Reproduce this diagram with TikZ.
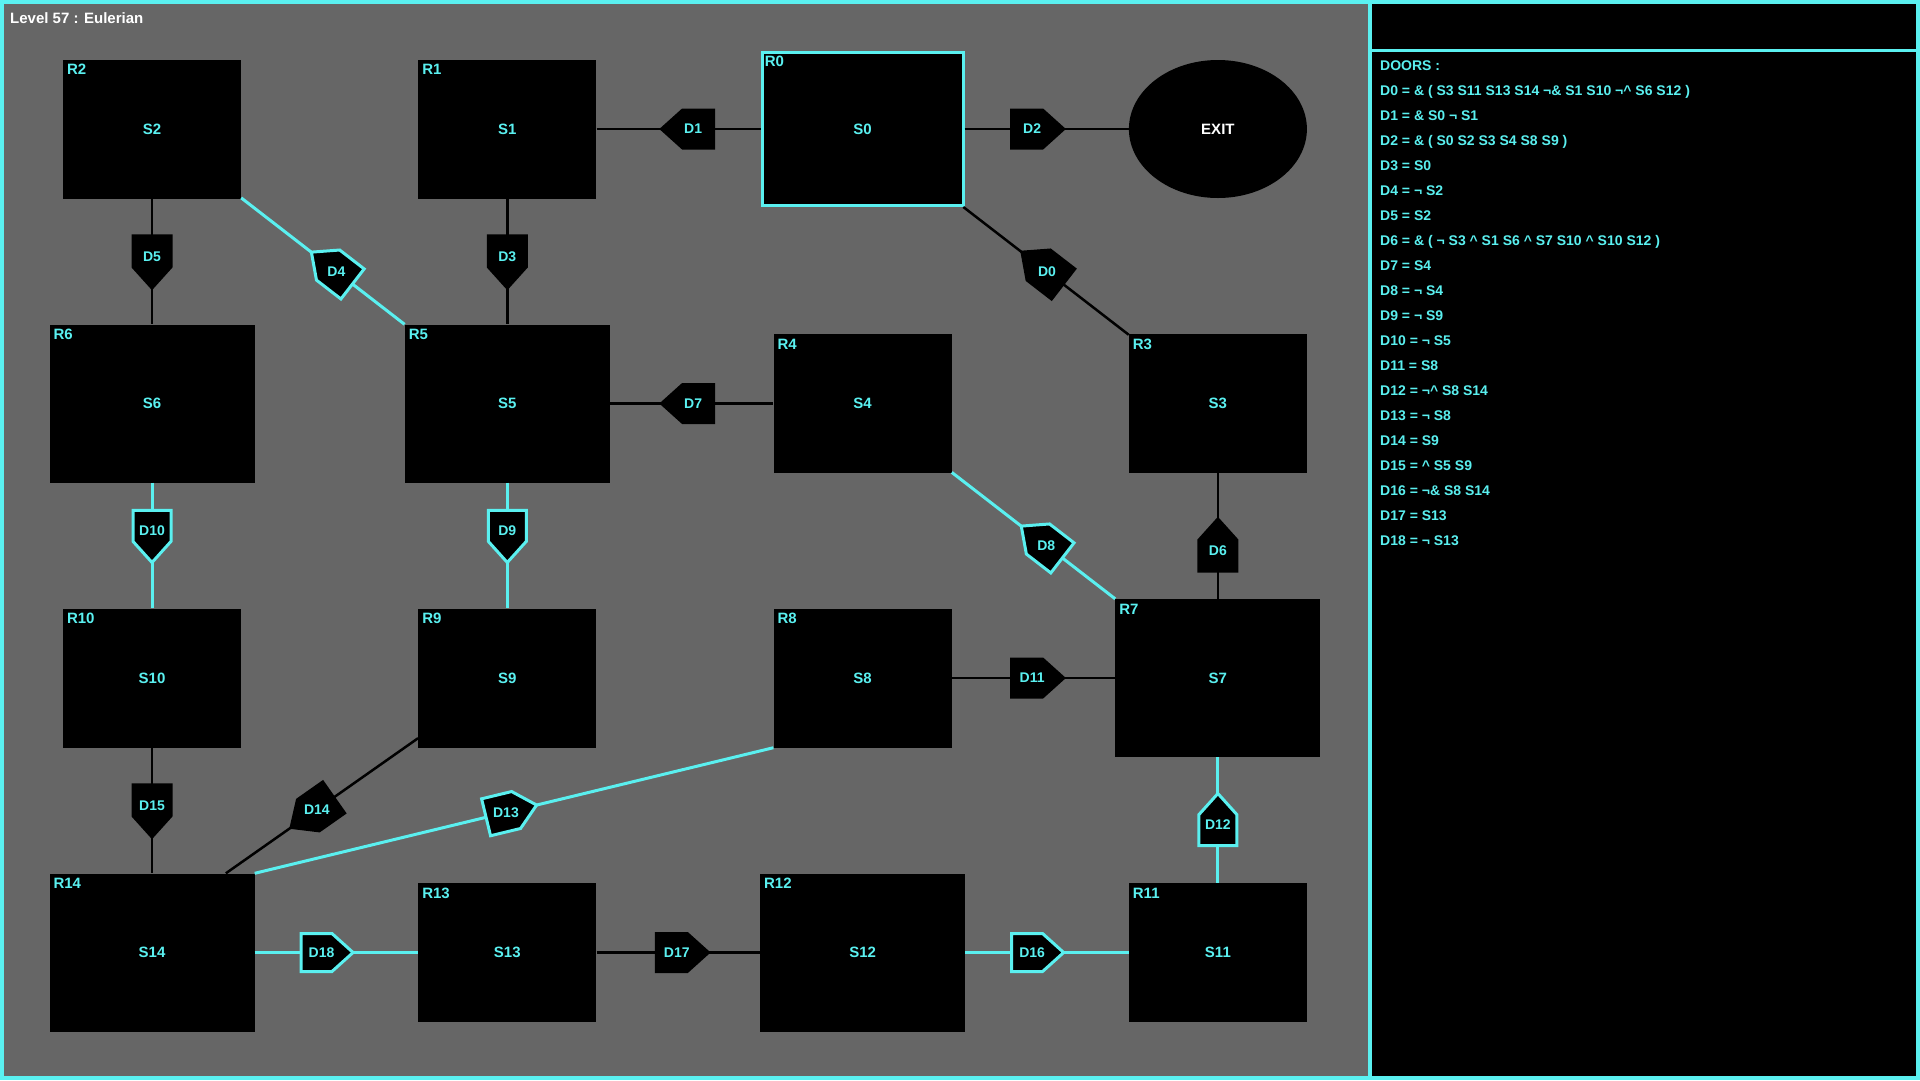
\documentclass[tikz,border=0pt]{standalone}
\usepackage{fontspec}
\setmainfont{Liberation Sans}
\usetikzlibrary{positioning, calc, shapes.geometric, shapes.symbols}

\definecolor{neon}{RGB}{90,240,240}
\definecolor{floor}{RGB}{102,102,102}

\begin{document}
\begin{tikzpicture}[x=1pt,y=-1pt,on grid,node distance=274.5pt and 355.3pt,
  room/.style={rectangle,fill=black,minimum width=178pt,minimum height=139pt,inner sep=0pt,
    text=neon,font=\fontsize{15}{18}\selectfont\bfseries},
  big room/.style={room,minimum width=205pt,minimum height=158pt},
  room tag/.style={anchor=north west,inner xsep=4pt,inner ysep=5pt,text=neon,
    font=\fontsize{15}{18}\selectfont\bfseries},
  wire/.style={draw=black,line width=2.5pt},
  neon wire/.style={draw=neon,line width=3pt},
  door/.style={signal,signal to=east,signal pointer angle=84,fill=black,draw=black,
    line width=3pt,minimum width=52pt,minimum height=38pt,inner sep=0pt,sloped,allow upside down},
  neon door/.style={door,draw=neon},
  door tag/.style={inner sep=0pt,text=neon,font=\fontsize{14}{16}\selectfont\bfseries}]
  \useasboundingbox (0,0) rectangle (1920,1080);
  % frame and panels
  \fill[neon] (0,0) rectangle (1920,1080);
  \fill[floor] (4,4) rectangle (1368,1076);
  \fill[black] (1372,4) rectangle (1916,1076);
  \draw[neon,line width=3pt] (1372,50) -- (1916,50);
  \node[anchor=north west,inner sep=0pt,text=white,font=\fontsize{15}{18}\selectfont\bfseries]
    (level) at (10,12) {Level 57 : Eulerian};

  % rooms
  \node[room] (R2) at (152,129) {S2};
  \node[room] (R1) [right=of R2] {S1};
  \node[room,draw=neon,line width=3pt,minimum width=201pt,minimum height=153pt] (R0) [right=of R1] {S0};
  \node[ellipse,fill=black,minimum width=178pt,minimum height=138pt,text=white,
    font=\fontsize{15}{18}\selectfont\bfseries] (EXIT) [right=of R0] {EXIT};
  \node[big room] (R6) [below=of R2] {S6};
  \node[big room] (R5) [below=of R1] {S5};
  \node[room] (R4) [below=of R0] {S4};
  \node[room] (R3) [below=of EXIT] {S3};
  \node[room] (R10) [below=of R6] {S10};
  \node[room] (R9) [below=of R5] {S9};
  \node[room] (R8) [below=of R4] {S8};
  \node[big room] (R7) [below=of R3] {S7};
  \node[big room] (R14) [below=of R10] {S14};
  \node[room] (R13) [below=of R9] {S13};
  \node[big room] (R12) [below=of R8] {S12};
  \node[room] (R11) [below=of R7] {S11};

  \node[room tag] (tagR0) at (R0.north west) {R0};
  \node[room tag] (tagR1) at (R1.north west) {R1};
  \node[room tag] (tagR2) at (R2.north west) {R2};
  \node[room tag] (tagR3) at (R3.north west) {R3};
  \node[room tag] (tagR4) at (R4.north west) {R4};
  \node[room tag] (tagR5) at (R5.north west) {R5};
  \node[room tag] (tagR6) at (R6.north west) {R6};
  \node[room tag] (tagR7) at (R7.north west) {R7};
  \node[room tag] (tagR8) at (R8.north west) {R8};
  \node[room tag] (tagR9) at (R9.north west) {R9};
  \node[room tag] (tagR10) at (R10.north west) {R10};
  \node[room tag] (tagR11) at (R11.north west) {R11};
  \node[room tag] (tagR12) at (R12.north west) {R12};
  \node[room tag] (tagR13) at (R13.north west) {R13};
  \node[room tag] (tagR14) at (R14.north west) {R14};

  % corridors
  \path[wire]
    (R1) edge (R0)
    (R0) edge (EXIT)
    (R0) edge (R3)
    (R2) edge (R6)
    (R1) edge (R5)
    (R5) edge (R4)
    (R3) edge (R7)
    (R8) edge (R7)
    (R10) edge (R14)
    (R13) edge (R12)
    (R14.47) edge (R9.214);
  \path[neon wire]
    (R2) edge (R5)
    (R6) edge (R10)
    (R5) edge (R9)
    (R4) edge (R7)
    (R11) edge (R7)
    (R14.north east) edge (R8.south west)
    (R14) edge (R13)
    (R12) edge (R11);

  % doors, pointing the way they open
  \path (R3.center) -- node[door,pos=.47] (d0) {} (R0.center)
        (R0.center) -- node[door,pos=.463] (d1) {} (R1.center)
        (R0.center) -- node[door,pos=.463] (d2) {} (EXIT.center)
        (R1.center) -- node[door,pos=.446] (d3) {} (R5.center)
        (R5.center) -- node[neon door,pos=.47] (d4) {} (R2.center)
        (R2.center) -- node[door,pos=.446] (d5) {} (R6.center)
        (R7.center) -- node[door,pos=.446] (d6) {} (R3.center)
        (R4.center) -- node[door,pos=.463] (d7) {} (R5.center)
        (R7.center) -- node[neon door,pos=.472] (d8) {} (R4.center)
        (R5.center) -- node[neon door,pos=.446] (d9) {} (R9.center)
        (R6.center) -- node[neon door,pos=.446] (d10) {} (R10.center)
        (R8.center) -- node[door,pos=.463] (d11) {} (R7.center)
        (R11.center) -- node[neon door,pos=.446] (d12) {} (R7.center)
        (R14.north east) -- node[neon door,pos=.475] (d13) {} (R8.south west)
        (R9.214) -- node[door,pos=.505] (d14) {} (R14.47)
        (R10.center) -- node[door,pos=.446] (d15) {} (R14.center)
        (R12.center) -- node[neon door,pos=.463] (d16) {} (R11.center)
        (R13.center) -- node[door,pos=.463] (d17) {} (R12.center)
        (R14.center) -- node[neon door,pos=.463] (d18) {} (R13.center);

  \node[door tag] (t0) at ($(d0)!5pt!(d0.east)$) {D0};
  \node[door tag] (t1) at ($(d1)!5pt!(d1.east)$) {D1};
  \node[door tag] (t2) at ($(d2)!5pt!(d2.east)$) {D2};
  \node[door tag] (t3) at ($(d3)!5pt!(d3.east)$) {D3};
  \node[door tag] (t4) at ($(d4)!5pt!(d4.east)$) {D4};
  \node[door tag] (t5) at ($(d5)!5pt!(d5.east)$) {D5};
  \node[door tag] (t6) at ($(d6)!5pt!(d6.east)$) {D6};
  \node[door tag] (t7) at ($(d7)!5pt!(d7.east)$) {D7};
  \node[door tag] (t8) at ($(d8)!5pt!(d8.east)$) {D8};
  \node[door tag] (t9) at ($(d9)!5pt!(d9.east)$) {D9};
  \node[door tag] (t10) at ($(d10)!5pt!(d10.east)$) {D10};
  \node[door tag] (t11) at ($(d11)!5pt!(d11.east)$) {D11};
  \node[door tag] (t12) at ($(d12)!5pt!(d12.east)$) {D12};
  \node[door tag] (t13) at ($(d13)!5pt!(d13.east)$) {D13};
  \node[door tag] (t14) at ($(d14)!5pt!(d14.east)$) {D14};
  \node[door tag] (t15) at ($(d15)!5pt!(d15.east)$) {D15};
  \node[door tag] (t16) at ($(d16)!5pt!(d16.east)$) {D16};
  \node[door tag] (t17) at ($(d17)!5pt!(d17.east)$) {D17};
  \node[door tag] (t18) at ($(d18)!5pt!(d18.east)$) {D18};

  % door rules
  \node[anchor=north west,inner sep=0pt,align=left,text=neon,
    font=\fontsize{14}{25}\selectfont\bfseries] (doorlist) at (1380,61)
    {DOORS :\\
     D0 = \& ( S3 S11 S13 S14 ¬\& S1 S10 ¬\textasciicircum{} S6 S12 )\\
     D1 = \& S0 ¬ S1\\
     D2 = \& ( S0 S2 S3 S4 S8 S9 )\\
     D3 = S0\\
     D4 = ¬ S2\\
     D5 = S2\\
     D6 = \& ( ¬ S3 \textasciicircum{} S1 S6 \textasciicircum{} S7 S10 \textasciicircum{} S10 S12 )\\
     D7 = S4\\
     D8 = ¬ S4\\
     D9 = ¬ S9\\
     D10 = ¬ S5\\
     D11 = S8\\
     D12 = ¬\textasciicircum{} S8 S14\\
     D13 = ¬ S8\\
     D14 = S9\\
     D15 = \textasciicircum{} S5 S9\\
     D16 = ¬\& S8 S14\\
     D17 = S13\\
     D18 = ¬ S13};
\end{tikzpicture}
\end{document}
